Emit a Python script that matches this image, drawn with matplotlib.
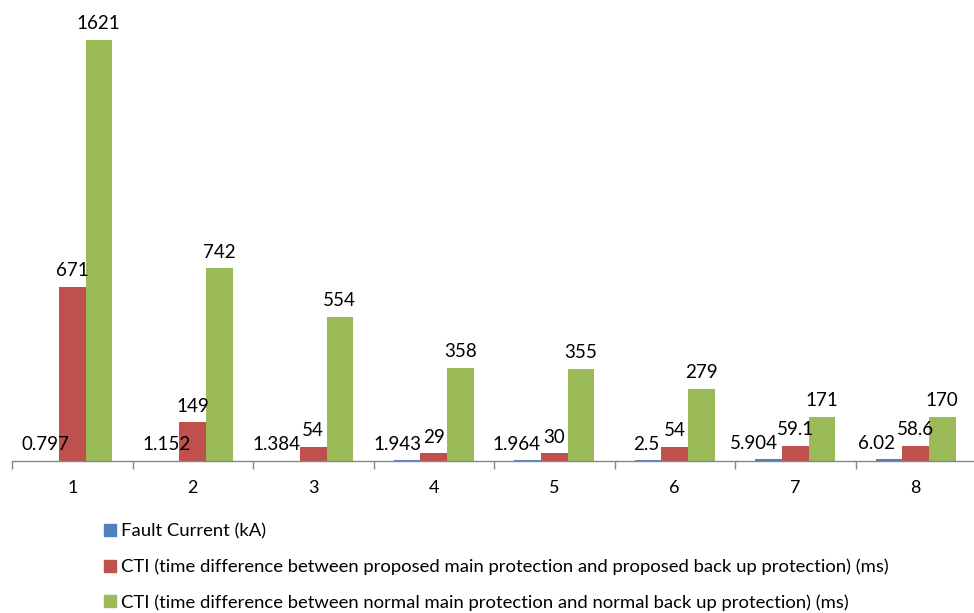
import matplotlib
matplotlib.use("Agg")
import matplotlib.pyplot as plt
from matplotlib.patches import Rectangle
from matplotlib.ticker import FixedLocator, NullFormatter
import numpy as np

plt.rcParams['font.family'] = ['Lato', 'DejaVu Sans']

categories = ["1", "2", "3", "4", "5", "6", "7", "8"]
fault_current_ka = [0.797, 1.152, 1.384, 1.943, 1.964, 2.5, 5.904, 6.02]
cti_proposed_ms = [671, 149, 54, 29, 30, 54, 59.1, 58.6]
cti_normal_ms = [1621, 742, 554, 358, 355, 279, 171, 170]

series_names = [
    "Fault Current (kA)",
    "CTI (time difference between proposed main protection and proposed back up protection) (ms)",
    "CTI (time difference between normal main protection and normal back up protection) (ms)",
]
colors = ["#4F81BD", "#C0504D", "#9BBB59"]

# horizontal nudge (pixels) for the fault-current labels so they clear the red bars
fc_label_nudge_px = [0, 0, -10, -10, -11, -2, -15, -13]

W, H, DPI = 974, 613, 100
fig = plt.figure(figsize=(W / DPI, H / DPI), dpi=DPI)
ax = fig.add_axes([12 / W, 152 / H, 964 / W, 1 - 152 / H])

x = np.arange(1, len(categories) + 1)
bw = 0.22
all_series = [fault_current_ka, cti_proposed_ms, cti_normal_ms]
containers = []
for i, (vals, col, name) in enumerate(zip(all_series, colors, series_names)):
    bars = ax.bar(x + (i - 1) * bw, vals, width=bw, color=col, label=name, linewidth=0)
    containers.append(bars)

label_fs = 13.5
for i, (bars, vals) in enumerate(zip(containers, all_series)):
    for j, (b, v) in enumerate(zip(bars, vals)):
        dx = fc_label_nudge_px[j] * 72 / DPI if i == 0 else 0
        ax.annotate(f"{v:g}", (b.get_x() + b.get_width() / 2, b.get_height()),
                    xytext=(dx, 5.5), textcoords="offset points",
                    ha="center", va="bottom", fontsize=label_fs, color="black")

ax.set_xlim(0.5, len(categories) + 0.5)
ax.set_ylim(0, 1775)
for s in ["left", "right", "top"]:
    ax.spines[s].set_visible(False)
ax.spines["bottom"].set_color("#868686")
ax.spines["bottom"].set_linewidth(1.0)
ax.set_yticks([])

ax.set_xticks(x)
ax.set_xticklabels(categories, fontsize=13)
ax.tick_params(axis="x", which="major", length=0, pad=14)
ax.xaxis.set_minor_locator(FixedLocator(np.arange(0.5, len(categories) + 1, 1)))
ax.xaxis.set_minor_formatter(NullFormatter())
ax.tick_params(axis="x", which="minor", length=6, width=1.0, color="#868686")

handles = [Rectangle((0, 0), 1, 1, color=c) for c in colors]
fig.legend(handles, series_names, loc="upper left",
           bbox_to_anchor=(97 / W, 1 - 516 / H), frameon=False,
           fontsize=13.3, handlelength=0.62, handleheight=0.62,
           handletextpad=0.3, labelspacing=1.03, borderaxespad=0)

fig.savefig("out.png", dpi=DPI)
